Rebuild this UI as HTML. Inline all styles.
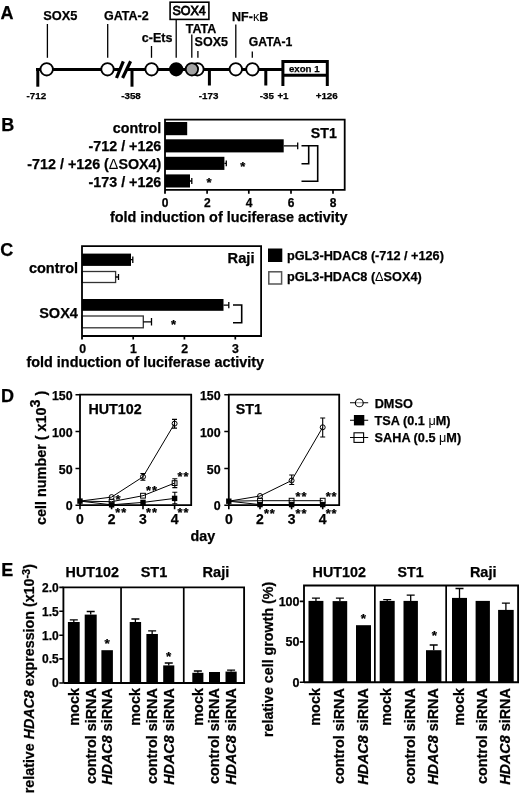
<!DOCTYPE html>
<html><head><meta charset="utf-8"><title>Figure</title>
<style>
html,body{margin:0;padding:0;background:#fff;}
svg{display:block;filter:blur(0.3px);}
text{font-family:"Liberation Sans",sans-serif;font-weight:bold;fill:#000;stroke:#000;stroke-width:0.25px;}
.n{font-weight:normal;stroke-width:0;}
.it{font-style:italic;}
</style></head>
<body>
<svg width="520" height="794" viewBox="0 0 520 794">
<rect x="0" y="0" width="520" height="794" fill="#fff"/>

<!-- ============ PANEL A ============ -->
<g id="A">
<text x="0.6" y="18.5" font-size="18">A</text>
<!-- main line -->
<g stroke="#000" stroke-width="3" fill="none">
  <line x1="36" y1="69.5" x2="119" y2="69.5"/>
  <line x1="126" y1="69.5" x2="282" y2="69.5"/>
  <!-- ticks -->
  <line x1="37.8" y1="68" x2="37.8" y2="86.7"/>
  <line x1="132" y1="69.5" x2="132" y2="86.7"/>
  <line x1="209.4" y1="69.5" x2="209.4" y2="85.5"/>
  <line x1="265.8" y1="69.5" x2="265.8" y2="85.5"/>
  <!-- exon box -->
  <path d="M282.9 86 V61.4 H327.3 V86"/>
  <line x1="282.9" y1="75.2" x2="327.3" y2="75.2"/>
</g>
<!-- break slashes -->
<g stroke="#000" stroke-width="3.2" fill="none">
  <line x1="116.5" y1="78" x2="123.3" y2="61.3"/>
  <line x1="122.6" y1="78" x2="130.6" y2="61.3"/>
</g>
<!-- white gap around slashes -->
<!-- circles -->
<g stroke="#000" stroke-width="1.8">
  <circle cx="46.7" cy="69.3" r="6.2" fill="#fff"/>
  <circle cx="107.5" cy="69.3" r="6.2" fill="#fff"/>
  <circle cx="151.6" cy="69.3" r="6.2" fill="#fff"/>
  <circle cx="176.2" cy="69.3" r="6.2" fill="#000"/>
  <circle cx="197.4" cy="69.3" r="6.2" fill="#fff"/>
  <circle cx="191.9" cy="69.3" r="6.2" fill="#a3a3a3"/>
  <circle cx="235.8" cy="69.3" r="6.2" fill="#fff"/>
  <circle cx="252.4" cy="69.3" r="6.2" fill="#fff"/>
</g>
<!-- label stems -->
<g stroke="#000" stroke-width="1.3">
  <line x1="47.4" y1="24" x2="47.4" y2="57.8"/>
  <line x1="107.7" y1="24" x2="107.7" y2="57.8"/>
  <line x1="151.5" y1="46" x2="151.5" y2="57.8"/>
  <line x1="176.2" y1="20" x2="176.2" y2="57.8"/>
  <line x1="191.8" y1="34.6" x2="191.8" y2="57.8"/>
  <line x1="197.9" y1="51" x2="197.9" y2="57.8"/>
  <line x1="235.8" y1="24.6" x2="235.8" y2="57.8"/>
  <line x1="252.3" y1="51.5" x2="252.3" y2="57.8"/>
</g>
<rect x="170.1" y="2.2" width="38.8" height="17.2" fill="none" stroke="#000" stroke-width="1.6"/>
<text x="172.4" y="15.3" font-size="12.5" class="n" style="stroke-width:0.8px">SOX4</text>
<g font-size="12.5">
  <text x="43.2" y="19.8" font-size="12.8">SOX5</text>
  <text x="104" y="19.7">GATA-2</text>
  <text x="185.8" y="32.7">TATA</text>
  <text x="141.8" y="41.5">c-Ets</text>
  <text x="194.6" y="46">SOX5</text>
  <text x="232.1" y="20.6">NF-<tspan class="n">κ</tspan>B</text>
  <text x="248.8" y="46" font-size="12.2">GATA-1</text>
</g>
<text x="288.9" y="71.8" font-size="9.7">exon 1</text>
<g font-size="9.8">
  <text x="26.6" y="98.6">-712</text>
  <text x="121.2" y="98.6">-358</text>
  <text x="198.8" y="98.6">-173</text>
  <text x="259.7" y="98.6">-35</text>
  <text x="277.4" y="98.6">+1</text>
  <text x="315.7" y="98.6">+126</text>
</g>
</g>

<!-- ============ PANEL B ============ -->
<g id="B">
<text x="1.2" y="130.7" font-size="18">B</text>
<g font-size="14.3" text-anchor="end">
  <text x="161.3" y="132.9">control</text>
  <text x="161.3" y="150.6">-712 / +126</text>
  <text x="161.3" y="169.2">-712 / +126 (<tspan class="n">Δ</tspan>SOX4)</text>
  <text x="161.3" y="186.6">-173 / +126</text>
</g>
<!-- bars -->
<g fill="#000">
  <rect x="165" y="122" width="22.2" height="13.2"/>
  <rect x="165" y="139.3" width="118.7" height="13.1"/>
  <rect x="165" y="156.8" width="59.4" height="13.1"/>
  <rect x="165" y="174.4" width="25" height="13.1"/>
</g>
<g stroke="#000" fill="none">
  <!-- frame -->
  <path d="M165 193.7 V119.7 H344.7 V189.8 H165" stroke-width="1.8"/>
  <!-- x ticks -->
  <path d="M207.1 189.8 V193.7 M248.8 189.8 V193.7 M291 189.8 V193.7 M333 189.8 V193.7" stroke-width="1.7"/>
  <!-- error bars -->
  <path d="M283.7 145.8 H297.7 M297.7 142.6 V149.2" stroke-width="1.3"/>
  <path d="M224.4 163.3 H226.3 M226.3 160.5 V166.3" stroke-width="1.3"/>
  <path d="M190 181 H191.8 M191.8 178 V184" stroke-width="1.3"/>
  <!-- brackets -->
  <path d="M301.5 145.8 H317.7 V181.2 H301.5 M308.7 145.8 V163.8 H301.5" stroke-width="1.6"/>
</g>
<text x="310.8" y="138" font-size="14.2">ST1</text>
<g font-size="12" text-anchor="middle">
  <text x="165" y="206.9">0</text>
  <text x="207.3" y="206.9">2</text>
  <text x="249" y="206.9">4</text>
  <text x="291.2" y="206.9">6</text>
  <text x="333.2" y="206.9">8</text>
</g>
<g font-size="13" text-anchor="middle">
  <text x="242.8" y="170.9">*</text>
  <text x="209.1" y="187.3">*</text>
</g>
<text x="110" y="222" font-size="14.4">fold induction of luciferase activity</text>
</g>

<!-- ============ PANEL C ============ -->
<g id="C">
<text x="0.3" y="256.4" font-size="18">C</text>
<g font-size="14.5" text-anchor="end">
  <text x="78.1" y="273.2">control</text>
  <text x="77.9" y="318.1">SOX4</text>
</g>
<g fill="#000">
  <rect x="82" y="253.6" width="49" height="12.3"/>
  <rect x="82" y="299" width="141.5" height="11.8"/>
</g>
<g fill="#fff" stroke="#333" stroke-width="1.3">
  <rect x="82" y="271.5" width="33.6" height="11"/>
  <rect x="82" y="316" width="61.3" height="11.8"/>
</g>
<g stroke="#000" fill="none">
  <path d="M82 339.5 V246.2 H261.1 V336 H82" stroke-width="1.8"/>
  <path d="M133.2 336 V339.5 M184.4 336 V339.5 M235.3 336 V339.5" stroke-width="1.7"/>
  <path d="M131 259.7 H132.8 M132.8 256.5 V263" stroke-width="1.3"/>
  <path d="M115.6 277 H118.5 M118.5 274 V280" stroke-width="1.3"/>
  <path d="M223.5 305.1 H228.8 M228.8 302 V308.3" stroke-width="1.3"/>
  <path d="M143.3 321.8 H151.5 M151.5 318 V325.6" stroke-width="1.3"/>
  <path d="M233 305 H241.7 V322.7 H233" stroke-width="1.6"/>
</g>
<text x="227.6" y="263.4" font-size="14.7">Raji</text>
<g font-size="12.3" text-anchor="middle">
  <text x="82.6" y="353">0</text>
  <text x="133.4" y="353">1</text>
  <text x="184.6" y="353">2</text>
  <text x="235.5" y="353">3</text>
</g>
<text x="173.6" y="328.7" font-size="13" text-anchor="middle">*</text>
<text x="26.5" y="366.6" font-size="14.4">fold induction of luciferase activity</text>
<!-- legend -->
<rect x="268" y="248.5" width="14.3" height="13.5" fill="#000"/>
<rect x="268.8" y="271.8" width="12.8" height="12.2" fill="#fff" stroke="#555" stroke-width="1.5"/>
<g font-size="12.7">
  <text x="287" y="260.2">pGL3-HDAC8 (-712 / +126)</text>
  <text x="287" y="281">pGL3-HDAC8 (<tspan class="n">Δ</tspan>SOX4)</text>
</g>
</g>

<!-- ============ PANEL D ============ -->
<g id="D">
<path d="M80 505.2 V394.7 H191.2 V505.2 H80" stroke="#000" stroke-width="1.8" fill="none"/>
<path d="M75.5 394.7 H80 M75.5 431.5 H80 M75.5 468.5 H80 M75.5 505.2 H80 M80 505.2 V509.2 M111.6 505.2 V509.2 M143 505.2 V509.2 M174.6 505.2 V509.2 " stroke="#000" stroke-width="1.6" fill="none"/>
<g font-size="12.4" text-anchor="end">
<text x="72.6" y="399.8">150</text>
<text x="72.6" y="436.6">100</text>
<text x="72.6" y="473.6">50</text>
<text x="72.6" y="510.3">0</text>
</g>
<g font-size="14" text-anchor="middle">
<text x="80" y="523.9">0</text>
<text x="111.6" y="523.9">2</text>
<text x="143" y="523.9">3</text>
<text x="174.6" y="523.9">4</text>
</g>
<text x="88.4" y="414.2" font-size="14.3">HUT102</text>
<polyline points="80,501.1 111.6,497.1 143,476.8 174.6,423.6" stroke="#000" stroke-width="1" fill="none"/>
<polyline points="80,501.1 111.6,501.7 143,495.7 174.6,483.1" stroke="#000" stroke-width="1" fill="none"/>
<polyline points="80,501.1 111.6,504.8 143,502.4 174.6,498.4" stroke="#000" stroke-width="1" fill="none"/>
<path d="M142.9 473.5 V480.2 M140.4 473.5 H145.4 M140.4 480.2 H145.4 M174.5 419.4 V428.1 M172 419.4 H177 M172 428.1 H177 M174.8 478.8 V487.6 M172.3 478.8 H177.3 M172.3 487.6 H177.3 M174.8 492.3 V503.7 M172.3 492.3 H177.3 M172.3 503.7 H177.3 " stroke="#000" stroke-width="1.1" fill="none"/>
<rect x="77.3" y="498.4" width="5.4" height="5.4" fill="#000"/>
<rect x="108.9" y="502.1" width="5.4" height="5.4" fill="#000"/>
<rect x="140.3" y="499.7" width="5.4" height="5.4" fill="#000"/>
<rect x="171.9" y="495.7" width="5.4" height="5.4" fill="#000"/>
<rect x="109.2" y="499.3" width="4.8" height="4.8" fill="none" stroke="#000" stroke-width="1"/>
<rect x="140.6" y="493.3" width="4.8" height="4.8" fill="none" stroke="#000" stroke-width="1"/>
<rect x="172.2" y="480.7" width="4.8" height="4.8" fill="none" stroke="#000" stroke-width="1"/>
<circle cx="111.6" cy="497.1" r="2.5" fill="none" stroke="#000" stroke-width="1"/>
<circle cx="143" cy="476.8" r="2.5" fill="none" stroke="#000" stroke-width="1"/>
<circle cx="174.6" cy="423.6" r="2.5" fill="none" stroke="#000" stroke-width="1"/>
<g font-size="12">
<text x="115.5" y="504" letter-spacing="0.9" font-size="12.8">*</text>
<text x="115.3" y="517.1" letter-spacing="0.9" font-size="12.8">**</text>
<text x="146" y="517.1" letter-spacing="0.9" font-size="12.8">**</text>
<text x="177.6" y="517.1" letter-spacing="0.9" font-size="12.8">**</text>
<text x="146" y="494.9" letter-spacing="0.9" font-size="12.8">**</text>
<text x="177.6" y="480.8" letter-spacing="0.9" font-size="12.8">**</text>
</g>
<path d="M228.8 505.2 V394.7 H339.2 V505.2 H228.8" stroke="#000" stroke-width="1.8" fill="none"/>
<path d="M224.3 394.7 H228.8 M224.3 431.5 H228.8 M224.3 468.5 H228.8 M224.3 505.2 H228.8 M228.8 505.2 V509.2 M260 505.2 V509.2 M291.6 505.2 V509.2 M322.7 505.2 V509.2 " stroke="#000" stroke-width="1.6" fill="none"/>
<g font-size="12.4" text-anchor="end">
<text x="220.6" y="399.8">150</text>
<text x="220.6" y="436.6">100</text>
<text x="220.6" y="473.6">50</text>
<text x="220.6" y="510.3">0</text>
</g>
<g font-size="14" text-anchor="middle">
<text x="228.8" y="523.9">0</text>
<text x="260" y="523.9">2</text>
<text x="291.6" y="523.9">3</text>
<text x="322.7" y="523.9">4</text>
</g>
<text x="235.8" y="414.2" font-size="14.3">ST1</text>
<polyline points="228.8,501.2 260,496 291.6,480.5 322.7,427.3" stroke="#000" stroke-width="1" fill="none"/>
<polyline points="228.8,501.2 260,500.7 291.6,500.7 322.7,500.7" stroke="#000" stroke-width="1" fill="none"/>
<polyline points="228.8,501.2 260,504.6 291.6,504.6 322.7,504.6" stroke="#000" stroke-width="1" fill="none"/>
<path d="M291.7 475 V484.5 M289.2 475 H294.2 M289.2 484.5 H294.2 M322.7 418 V437 M320.2 418 H325.2 M320.2 437 H325.2 " stroke="#000" stroke-width="1.1" fill="none"/>
<rect x="226.1" y="498.5" width="5.4" height="5.4" fill="#000"/>
<rect x="257.3" y="501.9" width="5.4" height="5.4" fill="#000"/>
<rect x="288.9" y="501.9" width="5.4" height="5.4" fill="#000"/>
<rect x="320" y="501.9" width="5.4" height="5.4" fill="#000"/>
<rect x="257.6" y="498.3" width="4.8" height="4.8" fill="none" stroke="#000" stroke-width="1"/>
<rect x="289.2" y="498.3" width="4.8" height="4.8" fill="none" stroke="#000" stroke-width="1"/>
<rect x="320.3" y="498.3" width="4.8" height="4.8" fill="none" stroke="#000" stroke-width="1"/>
<circle cx="260" cy="496" r="2.5" fill="none" stroke="#000" stroke-width="1"/>
<circle cx="291.6" cy="480.5" r="2.5" fill="none" stroke="#000" stroke-width="1"/>
<circle cx="322.7" cy="427.3" r="2.5" fill="none" stroke="#000" stroke-width="1"/>
<g font-size="12">
<text x="263.9" y="517.7" letter-spacing="0.9" font-size="12.8">**</text>
<text x="295.6" y="517.7" letter-spacing="0.9" font-size="12.8">**</text>
<text x="325.7" y="517.7" letter-spacing="0.9" font-size="12.8">**</text>
<text x="295.6" y="500.7" letter-spacing="0.9" font-size="12.8">**</text>
<text x="325.7" y="500.7" letter-spacing="0.9" font-size="12.8">**</text>
</g>
<g stroke="#000" stroke-width="1.1" fill="none">
  <path d="M350 402.8 H368.2 M350 420.2 H368.2 M350 437.5 H368.2"/>
  <circle cx="359.3" cy="402.9" r="3.9" fill="#fff" fill-opacity="0.55"/>
  <rect x="353.9" y="415" width="10.4" height="10.4" fill="#000" stroke="none"/>
  <rect x="354" y="432.8" width="9.6" height="9.6" fill="none" stroke-width="1.1"/>
</g>
<g font-size="12.7">
  <text x="374.7" y="408">DMSO</text>
  <text x="374.6" y="424.7">TSA (0.1 <tspan class="n">μ</tspan>M)</text>
  <text x="374.6" y="442">SAHA (0.5 <tspan class="n">μ</tspan>M)</text>
</g>
<text x="190.6" y="541" font-size="14.3">day</text>
<text transform="translate(45.9 525) rotate(-90)" font-size="14.4">cell number ( x10<tspan dy="-6.3">3</tspan><tspan dy="6.3"> )</tspan></text>
<text x="1" y="402.3" font-size="18">D</text>
</g>
<!-- ============ PANEL E ============ -->
<g id="E">
<path d="M63.4 683 V587.4 H244.1 V683 H63.4" stroke="#000" stroke-width="1.85" fill="none"/>
<path d="M121.05 587.4 V683 M183.75 587.4 V683" stroke="#000" stroke-width="1.7" fill="none"/>
<path d="M59.3 587.4 H63.4 M59.3 611.2 H63.4 M59.3 635.3 H63.4 M59.3 658.9 H63.4 M59.3 683 H63.4" stroke="#000" stroke-width="1.6"/>
<g font-size="12" text-anchor="end"><text x="58.7" y="591.7">2.0</text><text x="58.7" y="615.5">1.5</text><text x="58.7" y="639.6">1.0</text><text x="58.7" y="663.2">0.5</text><text x="58.7" y="687.3">0</text></g>
<rect x="67.9" y="622" width="11.8" height="61" fill="#000"/>
<path d="M73.8 622 V619.9 M69.8 619.9 H77.8" stroke="#000" stroke-width="1.3"/>
<rect x="84.7" y="614.6" width="12" height="68.4" fill="#000"/>
<path d="M90.7 614.6 V611.5 M86.7 611.5 H94.7" stroke="#000" stroke-width="1.3"/>
<rect x="101.4" y="650.2" width="11.5" height="32.8" fill="#000"/>
<rect x="129.7" y="622" width="11.4" height="61" fill="#000"/>
<path d="M135.4 622 V619 M131.4 619 H139.4" stroke="#000" stroke-width="1.3"/>
<rect x="146.4" y="634" width="11.5" height="49" fill="#000"/>
<path d="M152.15 634 V630.8 M148.15 630.8 H156.15" stroke="#000" stroke-width="1.3"/>
<rect x="163.2" y="665.4" width="11.1" height="17.6" fill="#000"/>
<path d="M168.75 665.4 V663 M164.75 663 H172.75" stroke="#000" stroke-width="1.3"/>
<rect x="192.3" y="672.8" width="11.1" height="10.2" fill="#000"/>
<path d="M197.85 672.8 V671 M193.85 671 H201.85" stroke="#000" stroke-width="1.3"/>
<rect x="209" y="672" width="11" height="11" fill="#000"/>
<rect x="225.5" y="671.6" width="11.2" height="11.4" fill="#000"/>
<path d="M231.1 671.6 V670.1 M227.1 670.1 H235.1" stroke="#000" stroke-width="1.3"/>
<g font-size="14">
<text x="65.6" y="577.3" font-size="14.3">HUT102</text>
<text x="140.7" y="577.3" font-size="14.5">ST1</text>
<text x="202.5" y="576.9" font-size="14.6">Raji</text>
</g>
<g font-size="13.5" text-anchor="middle"><text x="107.2" y="647.6">*</text><text x="168.6" y="660.9">*</text></g>
<text transform="translate(78.6 688.1) rotate(-90)" text-anchor="end" font-size="14.4">mock</text>
<text transform="translate(95.5 688.1) rotate(-90)" text-anchor="end" font-size="14.4">control siRNA</text>
<text transform="translate(111.95 688.1) rotate(-90)" text-anchor="end" font-size="14.4"><tspan class="it">HDAC8</tspan> siRNA</text>
<text transform="translate(140.2 688.1) rotate(-90)" text-anchor="end" font-size="14.4">mock</text>
<text transform="translate(156.95 688.1) rotate(-90)" text-anchor="end" font-size="14.4">control siRNA</text>
<text transform="translate(173.55 688.1) rotate(-90)" text-anchor="end" font-size="14.4"><tspan class="it">HDAC8</tspan> siRNA</text>
<text transform="translate(202.65 688.1) rotate(-90)" text-anchor="end" font-size="14.4">mock</text>
<text transform="translate(219.3 688.1) rotate(-90)" text-anchor="end" font-size="14.4">control siRNA</text>
<text transform="translate(235.9 688.1) rotate(-90)" text-anchor="end" font-size="14.4"><tspan class="it">HDAC8</tspan> siRNA</text>
<text transform="translate(33.6 793.2) rotate(-90)" font-size="14.25">relative <tspan class="it">HDAC8</tspan> expression (x10<tspan font-size="11" dy="-4">-3</tspan><tspan dy="4">)</tspan></text>
<path d="M304 682.2 V585.5 H518.1 V682.2 H304" stroke="#000" stroke-width="1.85" fill="none"/>
<path d="M374.85 585.5 V682.2 M446.15 585.5 V682.2" stroke="#000" stroke-width="1.7" fill="none"/>
<path d="M299.8 601.4 H304 M299.8 641.9 H304 M299.8 682.2 H304" stroke="#000" stroke-width="1.6"/>
<g font-size="12.5" text-anchor="end"><text x="299.5" y="605.7">100</text><text x="299.5" y="646.2">50</text><text x="299.5" y="686.5">0</text></g>
<rect x="308.5" y="600.9" width="14.9" height="81.3" fill="#000"/>
<path d="M315.95 600.9 V598.2 M311.95 598.2 H319.95" stroke="#000" stroke-width="1.3"/>
<rect x="332.6" y="601.1" width="14.6" height="81.1" fill="#000"/>
<path d="M339.9 601.1 V598.2 M335.9 598.2 H343.9" stroke="#000" stroke-width="1.3"/>
<rect x="356" y="625.2" width="15" height="57" fill="#000"/>
<rect x="379.7" y="600.9" width="15" height="81.3" fill="#000"/>
<path d="M387.2 600.9 V599.6 M383.2 599.6 H391.2" stroke="#000" stroke-width="1.3"/>
<rect x="403.5" y="600.9" width="14.4" height="81.3" fill="#000"/>
<path d="M410.7 600.9 V595.2 M406.7 595.2 H414.7" stroke="#000" stroke-width="1.3"/>
<rect x="426" y="650.2" width="15.4" height="32" fill="#000"/>
<path d="M433.7 650.2 V645 M429.7 645 H437.7" stroke="#000" stroke-width="1.3"/>
<rect x="452" y="597.9" width="15" height="84.3" fill="#000"/>
<path d="M459.5 597.9 V588.5 M455.5 588.5 H463.5" stroke="#000" stroke-width="1.3"/>
<rect x="475.6" y="600.9" width="14.3" height="81.3" fill="#000"/>
<rect x="498.1" y="609.9" width="15.6" height="72.3" fill="#000"/>
<path d="M505.9 609.9 V603.2 M501.9 603.2 H509.9" stroke="#000" stroke-width="1.3"/>
<g font-size="14">
<text x="312.6" y="577" font-size="14.3">HUT102</text>
<text x="397.5" y="577" font-size="14.2">ST1</text>
<text x="469.9" y="576.9" font-size="14.5">Raji</text>
</g>
<g font-size="13.5" text-anchor="middle"><text x="363.4" y="623">*</text><text x="434.3" y="639.7">*</text></g>
<text transform="translate(320.15 688.1) rotate(-90)" text-anchor="end" font-size="14.4">mock</text>
<text transform="translate(344.1 688.1) rotate(-90)" text-anchor="end" font-size="14.4">control siRNA</text>
<text transform="translate(367.7 688.1) rotate(-90)" text-anchor="end" font-size="14.4"><tspan class="it">HDAC8</tspan> siRNA</text>
<text transform="translate(391.4 688.1) rotate(-90)" text-anchor="end" font-size="14.4">mock</text>
<text transform="translate(414.9 688.1) rotate(-90)" text-anchor="end" font-size="14.4">control siRNA</text>
<text transform="translate(437.9 688.1) rotate(-90)" text-anchor="end" font-size="14.4"><tspan class="it">HDAC8</tspan> siRNA</text>
<text transform="translate(463.7 688.1) rotate(-90)" text-anchor="end" font-size="14.4">mock</text>
<text transform="translate(486.95 688.1) rotate(-90)" text-anchor="end" font-size="14.4">control siRNA</text>
<text transform="translate(510.1 688.1) rotate(-90)" text-anchor="end" font-size="14.4"><tspan class="it">HDAC8</tspan> siRNA</text>
<text transform="translate(272.6 737) rotate(-90)" font-size="14.25">relative cell growth (%)</text>
<text x="1.2" y="575.6" font-size="18">E</text>
</g>

</svg>
</body></html>
